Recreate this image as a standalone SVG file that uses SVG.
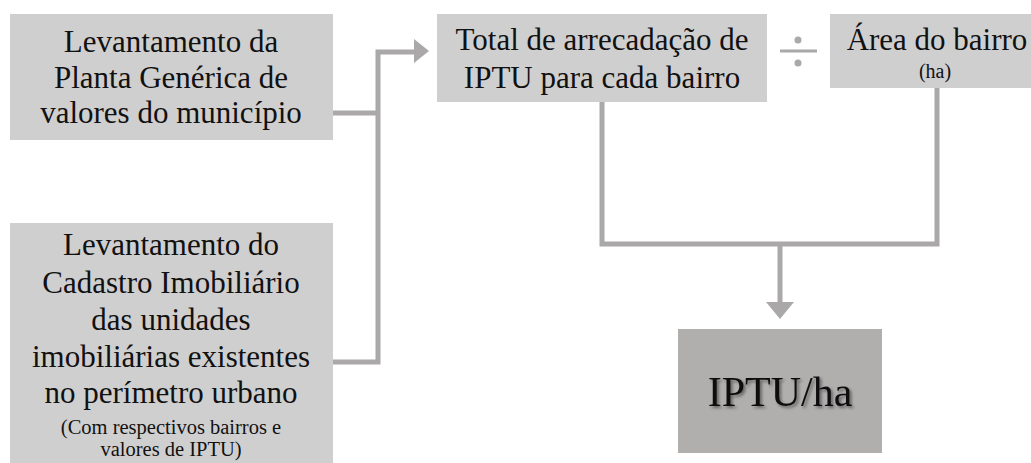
<svg xmlns="http://www.w3.org/2000/svg" width="1031" height="463" viewBox="0 0 1031 463">
<style>
.box{fill:#d0cfcf}
.dark{fill:#b1aeae}
.conn{fill:none;stroke:#aaa8a8;stroke-width:5}
</style>
<defs>
<filter id="sh" x="-20%" y="-20%" width="140%" height="140%">
<feDropShadow dx="2" dy="2" stdDeviation="1.5" flood-color="#000" flood-opacity="0.45"/>
</filter>
</defs>
<rect width="1031" height="463" fill="#fff"/>
<g id="connectors">
<polyline class="conn" points="333,113 378,113"/>
<polyline class="conn" points="333,362 378,362 378,52 416,52"/>
<polygon points="414,39 429,51 414,63" fill="#aaa8a8"/>
<polyline class="conn" points="602,102 602,244 937,244 937,88"/>
<polyline class="conn" points="780,244 780,304"/>
<polygon points="766,302 794,302 780,319" fill="#aaa8a8"/>
</g>
<g id="div-sign">
<line x1="780" y1="51" x2="817" y2="51" stroke="#aaa8a8" stroke-width="3"/>
<circle cx="798" cy="40" r="3.5" fill="#aaa8a8"/>
<circle cx="798" cy="63" r="3.5" fill="#aaa8a8"/>
</g>
<g font-family="Liberation Serif" fill="#111" text-anchor="middle">
<g id="node-planta">
<rect class="box" x="10" y="14" width="323" height="126"/>
<g font-size="31">
<text x="171" y="52">Levantamento da</text>
<text x="171" y="88">Planta Genérica de</text>
<text x="171" y="123">valores do município</text>
</g>
</g>
<g id="node-cadastro">
<rect class="box" x="10" y="223" width="323" height="240"/>
<g font-size="31">
<text x="171" y="255">Levantamento do</text>
<text x="171" y="293">Cadastro Imobiliário</text>
<text x="171" y="330">das unidades</text>
<text x="171" y="367">imobiliárias existentes</text>
<text x="171" y="403">no perímetro urbano</text>
</g>
<g font-size="20.5">
<text x="171" y="434">(Com respectivos bairros e</text>
<text x="171" y="456">valores de IPTU)</text>
</g>
</g>
<g id="node-total">
<rect class="box" x="437" y="14" width="330" height="88"/>
<g font-size="31">
<text x="602" y="50">Total de arrecadação de</text>
<text x="602" y="88">IPTU para cada bairro</text>
</g>
</g>
<g id="node-area">
<rect class="box" x="830" y="14" width="201" height="74"/>
<text x="937" y="50" font-size="31">Área do bairro</text>
<text x="935" y="78" font-size="20">(ha)</text>
</g>
<g id="node-result">
<rect class="dark" x="678" y="329" width="204" height="124"/>
<text x="780" y="406" font-size="42" filter="url(#sh)">IPTU/ha</text>
</g>
</g>
</svg>
